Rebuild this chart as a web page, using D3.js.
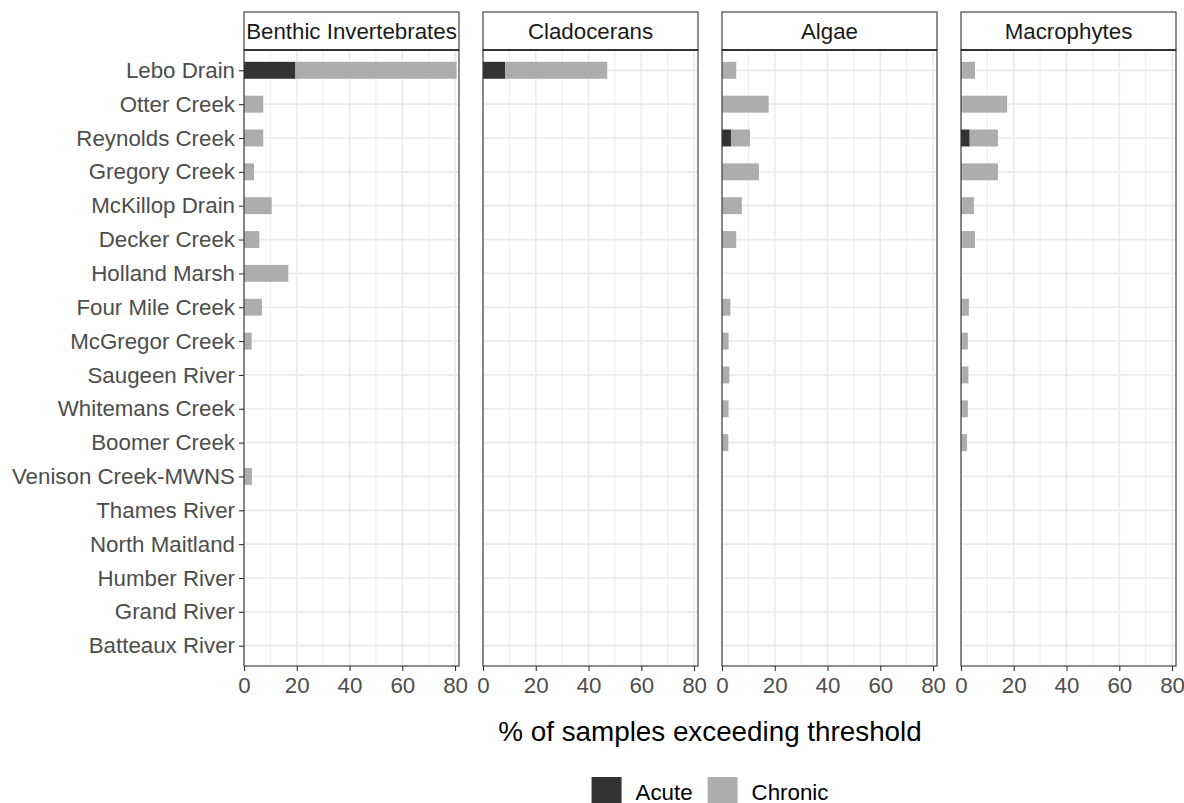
<!DOCTYPE html>
<html>
<head>
<meta charset="utf-8">
<script src="https://cdn.jsdelivr.net/npm/d3@7"></script>
<style>
  body { margin: 0; background: #fff; }
  svg { display: block; font-family: "Liberation Sans", Arial, sans-serif; }
</style>
</head>
<body>
<div class="canvas"></div>
<script>
const sites = [
  'Lebo Drain', 'Otter Creek', 'Reynolds Creek', 'Gregory Creek', 'McKillop Drain',
  'Decker Creek', 'Holland Marsh', 'Four Mile Creek', 'McGregor Creek', 'Saugeen River',
  'Whitemans Creek', 'Boomer Creek', 'Venison Creek-MWNS', 'Thames River', 'North Maitland',
  'Humber River', 'Grand River', 'Batteaux River'
];
const groups = ['Benthic Invertebrates', 'Cladocerans', 'Algae', 'Macrophytes'];
const types = ['Acute', 'Chronic'];
const xTicks = [0, 20, 40, 60, 80];

// % of samples, per site (same order as sites)
const benthicAcute   = [19.5, 0, 0, 0, 0, 0, 0, 0, 0, 0, 0, 0, 0, 0, 0, 0, 0, 0];
const benthicChronic = [61.1, 7.3, 7.3, 3.8, 10.5, 5.8, 16.8, 6.8, 2.9, 0, 0, 0, 3.0, 0, 0, 0, 0, 0];
const cladoAcute     = [8.4, 0, 0, 0, 0, 0, 0, 0, 0, 0, 0, 0, 0, 0, 0, 0, 0, 0];
const cladoChronic   = [38.7, 0, 0, 0, 0, 0, 0, 0, 0, 0, 0, 0, 0, 0, 0, 0, 0, 0];
const algaeAcute     = [0, 0, 3.4, 0, 0, 0, 0, 0, 0, 0, 0, 0, 0, 0, 0, 0, 0, 0];
const algaeChronic   = [5.4, 17.7, 7.2, 14.0, 7.5, 5.4, 0, 3.2, 2.5, 2.8, 2.5, 2.4, 0, 0, 0, 0, 0, 0];
const macroAcute     = [0, 0, 3.3, 0, 0, 0, 0, 0, 0, 0, 0, 0, 0, 0, 0, 0, 0, 0];
const macroChronic   = [5.3, 17.5, 10.7, 14.0, 4.9, 5.3, 0, 3.0, 2.6, 2.8, 2.6, 2.3, 0, 0, 0, 0, 0, 0];

const seriesByGroup = {
  'Benthic Invertebrates': [benthicAcute, benthicChronic],
  'Cladocerans': [cladoAcute, cladoChronic],
  'Algae': [algaeAcute, algaeChronic],
  'Macrophytes': [macroAcute, macroChronic]
};

const W = 1184, H = 803;
const panelLeft = 244, panelW = 215, panelGap = 24;
const stripTop = 12, panelTop = 50, panelBottom = 666;
const textGrey = '#4d4d4d', lineDark = '#333333', gridCol = '#ebebeb';
const fontFam = '"Liberation Sans", Arial, sans-serif';
const axisFont = 22.3;

const svg = d3.select('.canvas').append('svg').attr('width', W).attr('height', H);

const color = d3.scaleOrdinal().domain(types).range(['#333333', '#adadad']);

const y = d3.scalePoint().domain(sites).range([panelTop, panelBottom]).padding(0.6);
const barH = y.step() * 0.5;

const x = d3.scaleLinear().domain([0, 81.5]).range([0, panelW]);

const stack = d3.stack().keys(types);

groups.forEach((grp, gi) => {
  const px = panelLeft + gi * (panelW + panelGap);
  const [acute, chronic] = seriesByGroup[grp];
  const rows = sites.map((s, i) => ({ site: s, Acute: acute[i], Chronic: chronic[i] }));

  const g = svg.append('g').attr('transform', `translate(${px},0)`);

  // grid
  g.selectAll('.minor').data([10, 30, 50, 70]).join('line')
    .attr('x1', d => x(d)).attr('x2', d => x(d))
    .attr('y1', panelTop).attr('y2', panelBottom)
    .attr('stroke', gridCol).attr('stroke-width', 0.9);
  g.selectAll('.major').data(xTicks).join('line')
    .attr('x1', d => x(d)).attr('x2', d => x(d))
    .attr('y1', panelTop).attr('y2', panelBottom)
    .attr('stroke', gridCol).attr('stroke-width', 1.7);
  g.selectAll('.hgrid').data(sites).join('line')
    .attr('x1', 0).attr('x2', panelW)
    .attr('y1', d => y(d)).attr('y2', d => y(d))
    .attr('stroke', gridCol).attr('stroke-width', 1.7);

  // bars
  g.selectAll('.layer').data(stack(rows)).join('g')
    .attr('fill', d => color(d.key))
    .selectAll('rect').data(d => d.filter(v => v[1] - v[0] > 0)).join('rect')
    .attr('x', d => x(d[0]))
    .attr('width', d => x(d[1]) - x(d[0]))
    .attr('y', d => y(d.data.site) - barH / 2)
    .attr('height', barH);

  // panel border
  g.append('rect')
    .attr('x', 0).attr('y', panelTop)
    .attr('width', panelW).attr('height', panelBottom - panelTop)
    .attr('fill', 'none').attr('stroke', lineDark).attr('stroke-width', 1.1);

  // strip
  g.append('rect')
    .attr('x', 0).attr('y', stripTop)
    .attr('width', panelW).attr('height', panelTop - stripTop)
    .attr('fill', '#fff').attr('stroke', lineDark).attr('stroke-width', 1.1);
  g.append('line')
    .attr('x1', 0).attr('x2', panelW).attr('y1', panelTop).attr('y2', panelTop)
    .attr('stroke', lineDark).attr('stroke-width', 2);
  g.append('text')
    .attr('x', panelW / 2).attr('y', (stripTop + panelTop) / 2)
    .attr('text-anchor', 'middle').attr('dominant-baseline', 'central')
    .attr('font-size', axisFont).attr('fill', '#1a1a1a')
    .text(grp);

  // x axis
  const xAxis = g.append('g')
    .attr('transform', `translate(0,${panelBottom})`)
    .call(d3.axisBottom(x).tickValues(xTicks).tickSize(5).tickPadding(6));
  xAxis.select('.domain').remove();
  xAxis.selectAll('line').attr('stroke', lineDark).attr('stroke-width', 1.1);
  xAxis.selectAll('text').attr('fill', textGrey).attr('font-size', axisFont)
    .attr('font-family', fontFam);

  if (gi === 0) {
    const yAxis = g.append('g')
      .call(d3.axisLeft(y).tickSize(5).tickPadding(4));
    yAxis.select('.domain').remove();
    yAxis.selectAll('line').attr('stroke', lineDark).attr('stroke-width', 1.1);
    yAxis.selectAll('text').attr('fill', textGrey).attr('font-size', axisFont)
      .attr('font-family', fontFam);
  }
});

// axis title
const panelsMid = panelLeft + (groups.length * panelW + (groups.length - 1) * panelGap) / 2;
svg.append('text')
  .attr('x', panelsMid).attr('y', 741)
  .attr('text-anchor', 'middle')
  .attr('font-size', 27.8).attr('fill', '#000')
  .text('% of samples exceeding threshold');

// legend
const legend = svg.append('g');
const keySize = 30;
let lx = 0;
types.forEach(t => {
  const item = legend.append('g').attr('transform', `translate(${lx},0)`);
  item.append('rect').attr('x', 0).attr('y', 777)
    .attr('width', keySize).attr('height', keySize).attr('fill', color(t));
  const txt = item.append('text').attr('x', keySize + 14).attr('y', 792)
    .attr('dominant-baseline', 'central')
    .attr('font-size', axisFont).attr('fill', '#000').text(t);
  lx += keySize + 14 + txt.node().getComputedTextLength() + 15;
});
const legW = lx - 15;
legend.attr('transform', `translate(${panelsMid - legW / 2},0)`);
</script>
</body>
</html>
